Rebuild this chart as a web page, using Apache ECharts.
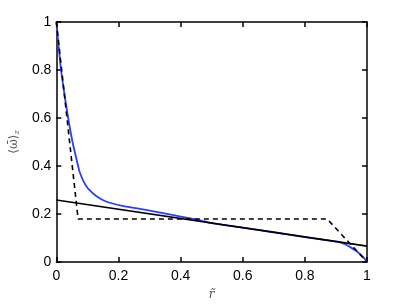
<!DOCTYPE html>
<html>
<head>
<meta charset="utf-8">
<script src="https://cdn.jsdelivr.net/npm/echarts@6/dist/echarts.min.js"></script>
<style>
  html, body { margin: 0; padding: 0; background: #ffffff; }
  #chart { width: 407px; height: 306px; }
</style>
</head>
<body>
<div id="chart"></div>
<script>
// blue curve
var blueCurve = [
  [0, 1], [0.008, 0.89], [0.015, 0.8], [0.026, 0.7], [0.038, 0.6],
  [0.052, 0.5], [0.07, 0.4], [0.075, 0.375], [0.086, 0.34], [0.096, 0.317],
  [0.107, 0.299], [0.128, 0.275], [0.16, 0.252], [0.213, 0.234], [0.288, 0.217],
  [0.373, 0.196], [0.447, 0.178], [0.5, 0.162], [0.6, 0.143], [0.7, 0.124],
  [0.8, 0.104], [0.88, 0.089], [0.914, 0.082], [0.93, 0.074], [0.946, 0.062],
  [0.962, 0.049], [0.978, 0.033], [0.99, 0.017], [1, 0]
];

// dashed profile
var dashedProfile = [[0, 1], [0.07, 0.179], [0.872, 0.179], [1, 0]];

// straight black line
var solidLine = [[0, 0.258], [1, 0.066]];

var mychart = echarts.init(document.getElementById("chart"));

var tickFont = {
  color: "#000000",
  fontSize: 14,
  fontFamily: "Liberation Sans, Arial, sans-serif"
};

function fmt(v) {
  return v === 0 ? "0" : v === 1 ? "1" : String(v);
}

var boxLine = { show: true, onZero: false, lineStyle: { color: "#000", width: 1.5 } };
var boxTick = { show: true, inside: true, length: 5, lineStyle: { color: "#000", width: 1.5 } };

var option = {
  animation: false,
  grid: { left: 53, top: 22, width: 314, height: 241, containLabel: false },
  xAxis: [
    {
      type: "value",
      min: 0,
      max: 1,
      interval: 0.2,
      position: "bottom",
      axisLine: boxLine,
      axisTick: boxTick,
      splitLine: { show: false },
      axisLabel: Object.assign({ margin: 7, formatter: fmt }, tickFont),
      name: "r\u0303",
      nameLocation: "middle",
      nameGap: 27,
      nameTextStyle: { fontSize: 12, color: "#555", fontStyle: "italic", fontFamily: "DejaVu Serif, serif" }
    },
    {
      type: "value",
      min: 0,
      max: 1,
      interval: 0.2,
      position: "top",
      axisLine: boxLine,
      axisTick: boxTick,
      splitLine: { show: false },
      axisLabel: { show: false }
    }
  ],
  yAxis: [
    {
      type: "value",
      min: 0,
      max: 1,
      interval: 0.2,
      position: "left",
      axisLine: boxLine,
      axisTick: boxTick,
      splitLine: { show: false },
      axisLabel: Object.assign({ margin: 5, formatter: fmt }, tickFont),
      name: "{a|\u27E8\u03C9\u0304\u27E9}{s|z}",
      nameLocation: "middle",
      nameRotate: 90,
      nameGap: 31,
      nameTextStyle: {
        rich: {
          a: { fontSize: 12, color: "#555", fontFamily: "DejaVu Serif, serif" },
          s: { fontSize: 8, color: "#555", fontStyle: "italic", fontFamily: "DejaVu Serif, serif", verticalAlign: "bottom", padding: [6, 0, 0, 0] }
        }
      }
    },
    {
      type: "value",
      min: 0,
      max: 1,
      interval: 0.2,
      position: "right",
      axisLine: boxLine,
      axisTick: boxTick,
      splitLine: { show: false },
      axisLabel: { show: false }
    }
  ],
  series: [
    {
      type: "line",
      data: solidLine,
      showSymbol: false,
      lineStyle: { color: "#000000", width: 1.6 },
      z: 3
    },
    {
      type: "line",
      data: blueCurve,
      smooth: 0.25,
      showSymbol: false,
      lineStyle: { color: "#2d3ff2", width: 1.8 },
      z: 2
    },
    {
      type: "line",
      data: dashedProfile,
      showSymbol: false,
      lineStyle: { color: "#000000", width: 1.6, type: [5, 4] },
      z: 4
    }
  ]
};
mychart.setOption(option, true);
</script>
</body>
</html>
